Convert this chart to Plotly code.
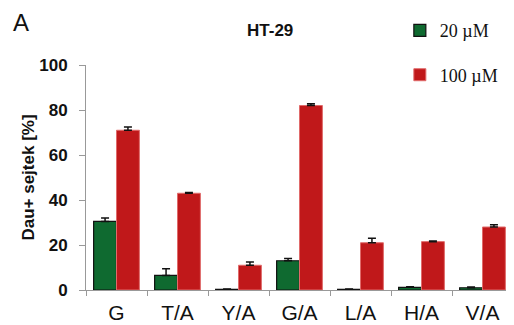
import plotly.graph_objects as go

categories = ["G", "T/A", "Y/A", "G/A", "L/A", "H/A", "V/A"]
low_vals = [30.5, 6.5, 0.3, 13.0, 0.3, 1.2, 1.0]
low_err = [1.5, 3.0, 0.1, 1.0, 0.1, 0.3, 0.3]
high_vals = [71.0, 43.0, 11.0, 82.0, 21.0, 21.5, 28.0]
high_err = [1.5, 0.3, 1.5, 0.8, 2.0, 0.3, 1.0]
series_names = ["20 \u00b5M", "100 \u00b5M"]
y_ticks = [0, 20, 40, 60, 80, 100]

fig = go.Figure()
fig.add_trace(go.Bar(
    x=categories, y=low_vals, name=series_names[0], legendgroup="a",
    marker=dict(color="#0f6a30", line=dict(color="#111111", width=1.2)),
    error_y=dict(type="data", array=low_err, arrayminus=[0]*len(low_err),
                 color="#111111", thickness=1.5, width=4),
))
fig.add_trace(go.Bar(
    x=categories, y=high_vals, name=series_names[1], legendgroup="b",
    marker=dict(color="#c0181a", line=dict(color="#e06a6a", width=1)),
    error_y=dict(type="data", array=high_err, arrayminus=[0]*len(high_err),
                 color="#111111", thickness=1.5, width=4),
))

fig.update_layout(
    width=514, height=325,
    margin=dict(l=78, r=9, t=57, b=43, autoexpand=False),
    paper_bgcolor="white", plot_bgcolor="white",
    barmode="group", bargap=0.25, bargroupgap=0,
    showlegend=True,
    legend=dict(x=0.735, y=1.235, xanchor="left", yanchor="top",
                font=dict(family="Liberation Serif", size=18, color="#111111"),
                tracegroupgap=18, itemwidth=30, bgcolor="rgba(0,0,0,0)",
                traceorder="grouped"),
    font=dict(family="Liberation Sans", color="#111111"),
    annotations=[
        dict(text="A", x=-0.175, y=1.19, xref="paper", yref="paper", xanchor="left", yanchor="middle",
             showarrow=False, font=dict(family="Liberation Sans", size=24, color="#111111")),
        dict(text="<b>HT-29</b>", x=0.43, y=1.155, xref="paper", yref="paper",
             xanchor="center", yanchor="middle", showarrow=False,
             font=dict(family="Liberation Sans", size=17, color="#111111")),
    ],
)
fig.update_xaxes(
    showline=True, linecolor="#999999", linewidth=1,
    ticks="outside", tickson="boundaries", ticklen=5, tickcolor="#999999",
    tickfont=dict(family="Liberation Sans", size=21, color="#111111"),
    tickvals=categories, ticktext=categories, ticklabelstandoff=4,
)
fig.update_yaxes(
    range=[0, 100], tickvals=y_ticks, ticktext=[f"<b>{v}</b>" for v in y_ticks],
    showline=True, linecolor="#999999", linewidth=1,
    ticks="outside", ticklen=6, tickcolor="#999999", showgrid=False, zeroline=False,
    tickfont=dict(family="Liberation Sans", size=17, color="#111111"),
    ticklabelstandoff=8,
    title=dict(text="<b>Dau+ sejtek [%]</b>", font=dict(family="Liberation Sans", size=17, color="#111111"),
               standoff=0),
)

fig.write_html("out.html")
